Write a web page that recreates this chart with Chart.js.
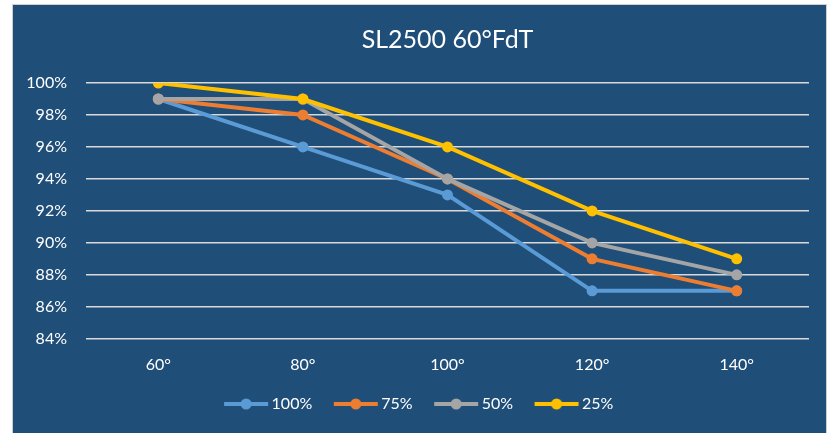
<!DOCTYPE html>
<html>
<head>
<meta charset="utf-8">
<script src="https://cdn.jsdelivr.net/npm/chart.js@4"></script>
<style>
  body { margin: 0; background: #ffffff; }
  #wrap {
    position: absolute; left: 12px; top: 4px;
    width: 815px; height: 431px;
    background: #1f4e79;
    border: 1px solid #d0d0d0;
    box-sizing: border-box;
  }
</style>
</head>
<body>
<div id="wrap"><canvas id="chart"></canvas></div>
<script>
// chart data
const categories = ["60°", "80°", "100°", "120°", "140°"]
const seriesNames = ["100%", "75%", "50%", "25%"]
const series100 = [99, 96, 93, 87, 87]
const series75 = [99, 98, 94, 89, 87]
const series50 = [99, 99, 94, 90, 88]
const series25 = [100, 99, 96, 92, 89]
const yTicks = [84, 86, 88, 90, 92, 94, 96, 98, 100]

const colors = ["#5b9bd5", "#ed7d31", "#a5a5a5", "#ffc000"]
const allSeries = [series100, series75, series50, series25]
const font = "Lato, 'Open Sans', sans-serif"

// legend marker: short line with a dot on it
// the image is wider than the legend box so there is room on the left between items
function makeMarker(color) {
    const c = document.createElement("canvas")
    c.width = 66
    c.height = 14
    const ctx = c.getContext("2d")
    ctx.strokeStyle = color
    ctx.lineWidth = 4
    ctx.beginPath()
    ctx.moveTo(21, 7)
    ctx.lineTo(65, 7)
    ctx.stroke()
    ctx.fillStyle = color
    ctx.beginPath()
    ctx.arc(43, 7, 5.5, 0, Math.PI * 2)
    ctx.fill()
    return c
}

const datasets = allSeries.map((values, i) => ({
    label: seriesNames[i],
    data: values,
    borderColor: colors[i],
    backgroundColor: colors[i],
    borderWidth: 4,
    pointRadius: 5.5,
    pointHoverRadius: 5.5,
    pointBorderWidth: 0,
    tension: 0,
    order: allSeries.length - i, // later series drawn on top
}))

new Chart(document.getElementById("chart"), {
    type: "line",
    data: { labels: categories, datasets: datasets },
    options: {
        responsive: true,
        maintainAspectRatio: false,
        animation: false,
        layout: { padding: { left: 0, right: 17, top: 0, bottom: 12 } },
        plugins: {
            title: {
                display: true,
                fullSize: false, // centre over the plot area
                text: "SL2500 60°FdT",
                color: "#ffffff",
                font: { family: font, size: 25, weight: "normal" },
                padding: { top: 20, bottom: 28 },
            },
            legend: {
                position: "bottom",
                labels: {
                    color: "#ffffff",
                    font: { family: font, size: 16 },
                    usePointStyle: true,
                    pointStyleWidth: 55,
                    padding: 6,
                    generateLabels: (chart) =>
                        chart.data.datasets.map((ds, i) => ({
                            text: ds.label,
                            fontColor: "#ffffff",
                            pointStyle: makeMarker(colors[i]),
                            datasetIndex: i,
                            lineWidth: 0,
                        })),
                },
            },
            tooltip: { enabled: false },
        },
        scales: {
            x: {
                offset: true,
                grid: { display: false, drawTicks: false },
                border: { display: false },
                ticks: { color: "#ffffff", font: { family: font, size: 16 }, padding: 16 },
            },
            y: {
                min: 84,
                max: 100,
                afterFit: (scale) => { scale.width = 73 },
                afterBuildTicks: (scale) => { scale.ticks = yTicks.map((v) => ({ value: v })) },
                grid: { color: "#d9d9d9", lineWidth: 1.5, drawTicks: false },
                border: { display: false },
                ticks: {
                    color: "#ffffff",
                    font: { family: font, size: 16 },
                    padding: 19,
                    callback: (v) => v + "%",
                },
            },
        },
    },
})
</script>
</body>
</html>
